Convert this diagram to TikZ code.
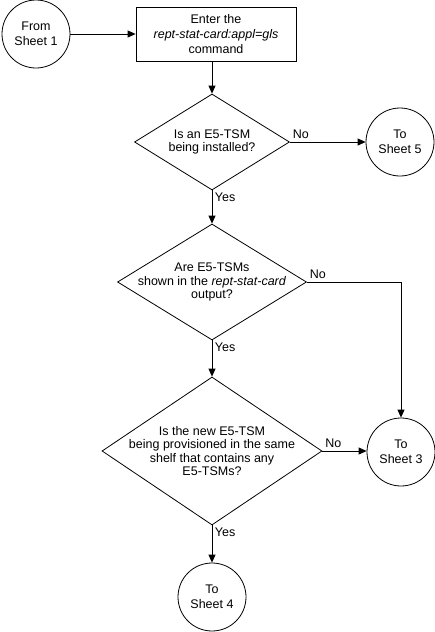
\documentclass[tikz,border=0pt]{standalone}
\usepackage{fontspec}
\setmainfont{Liberation Sans}
\usetikzlibrary{shapes.geometric,arrows.meta}

\tikzset{
  flow/.style={draw, line width=0.8pt, -{Triangle[length=8pt,width=7pt]}},
  sheet/.style={draw, line width=0.8pt, circle, minimum size=68pt, inner sep=0pt, align=center,
    font=\fontsize{12.5}{15}\selectfont},
  process/.style={draw, line width=0.8pt, rectangle, minimum width=160pt, minimum height=54pt,
    inner sep=0pt, align=center, font=\fontsize{12.5}{15}\selectfont},
  decision/.style={draw, line width=0.8pt, diamond, inner sep=0pt},
  answer/.style={inner sep=2.5pt}
}

\begin{document}
\begin{tikzpicture}[x=1pt, y=-1pt, font=\fontsize{12.5}{13.5}\selectfont]
    \useasboundingbox (0,0) rectangle (435,632);

    % Start point and first command
    \node[sheet] (from1) at (36,34) {From\\Sheet 1};
    \node[process] (enter) at (216,34) {Enter the\\\textit{rept-stat-card:appl=gls}\\command};

    % Decisions down the main column
    \node[decision, minimum width=155pt, minimum height=96pt,
      label={[align=center]center:Is an E5-TSM\\being installed?}] (q1) at (212,142) {};
    \node[decision, minimum width=189pt, minimum height=116pt,
      label={[align=center]center:Are E5-TSMs\\shown in the \textit{rept-stat-card}\\output?}] (q2) at (212,282) {};
    \node[decision, minimum width=220pt, minimum height=148pt,
      label={[align=center]center:Is the new E5-TSM\\being provisioned in the same\\shelf that contains any\\E5-TSMs?}] (q3) at (212,451) {};

    % Off-page connectors
    \node[sheet] (sheet5) at (400,142) {To\\Sheet 5};
    \node[sheet] (sheet3) at (401,452) {To\\Sheet 3};
    \node[sheet] (sheet4) at (212,597) {To\\Sheet 4};

    % Connectors
    \draw[flow] (from1.east) -- (enter.west |- from1.east);
    \draw[flow] (q1.north |- enter.south) -- (q1.north);
    \draw[flow] (q1.east) -- node[answer, pos=0, above right] {No} (sheet5.west |- q1.east);
    \draw[flow] (q1.south) -- node[answer, pos=0, below right] {Yes} (q2.north);
    \draw[flow] (q2.east) -| node[answer, pos=0, above right] {No} (sheet3.north);
    \draw[flow] (q2.south) -- node[answer, pos=0, below right] {Yes} (q3.north);
    \draw[flow] (q3.east) -- node[answer, pos=0, above right] {No} (sheet3.west |- q3.east);
    \draw[flow] (q3.south) -- node[answer, pos=0, below right] {Yes} (sheet4.north);
\end{tikzpicture}
\end{document}
